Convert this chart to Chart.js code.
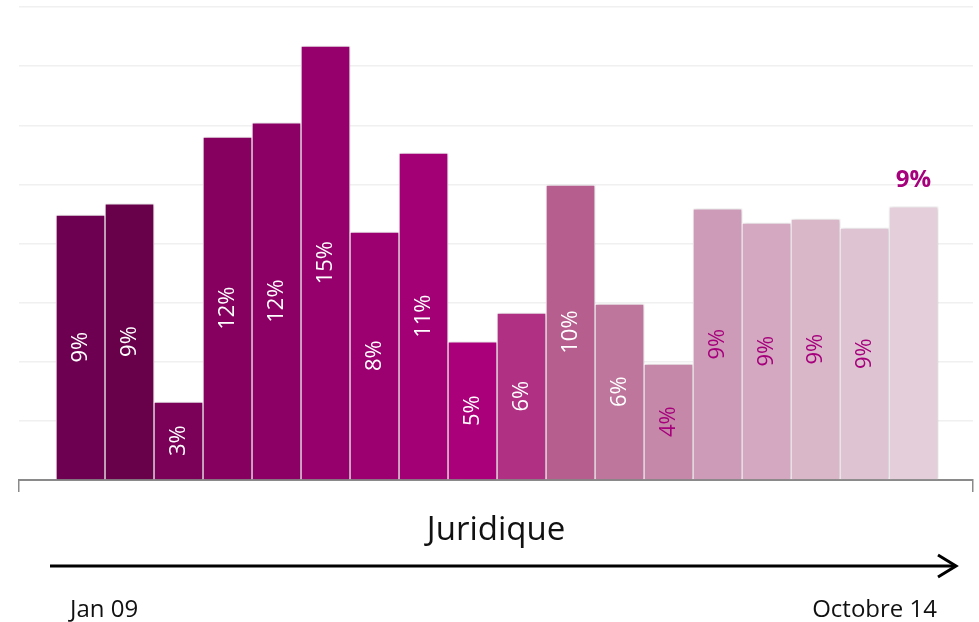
<!DOCTYPE html>
<html lang="fr">
<head>
<meta charset="UTF-8">
<title>Juridique</title>
<script src="https://cdn.jsdelivr.net/npm/chart.js"></script>
<style>
  body { margin: 0; background: #fff; }
  #page { position: relative; width: 979px; height: 622px; font-family: "Open Sans", sans-serif; }
  #zone { position: absolute; left: 0; top: 0; width: 979px; height: 500px; }
  #bas { position: absolute; left: 0; top: 0; pointer-events: none; }
</style>
</head>
<body>
<div id="page">
  <div id="zone"><canvas id="graphique"></canvas></div>
  <svg id="bas" width="979" height="622">
    <text x="496" y="540" text-anchor="middle" font-family="Open Sans" font-size="33" fill="#111">Juridique</text>
    <line x1="50" y1="566" x2="955" y2="566" stroke="#000" stroke-width="3"/>
    <polyline points="938,555 956,566 938,577" fill="none" stroke="#000" stroke-width="3"/>
    <text x="70" y="617" font-family="Open Sans" font-size="24" fill="#111">Jan 09</text>
    <text x="937" y="617" text-anchor="end" font-family="Open Sans" font-size="24" fill="#111">Octobre 14</text>
  </svg>
</div>

<script>
// positions des 18 périodes (jan 09 -> octobre 14)
const positions = [0, 1, 2, 3, 4, 5, 6, 7, 8, 9, 10, 11, 12, 13, 14, 15, 16, 17];
// part en %
const valeurs = [8.96, 9.34, 2.64, 11.6, 12.08, 14.68, 8.39, 11.06, 4.67, 5.65, 9.98, 5.95, 3.92, 9.17, 8.69, 8.83, 8.52, 9.24];
const etiquettes = ['9%', '9%', '3%', '12%', '12%', '15%', '8%', '11%', '5%', '6%', '10%', '6%', '4%', '9%', '9%', '9%', '9%', '9%'];
const couleurs = ['#6e0052', '#69004a', '#7a0058', '#85005f', '#8c0066', '#96006c', '#9c0070', '#a20074', '#aa007a',
  '#b03084', '#b65e8e', '#be769c', '#c688a8', '#cd9bb7', '#d4a8c0', '#d9b6c8', '#dec4d2', '#e4ced9'];

const magenta = '#a6007c';

// ombre des barres + étiquettes
const etiquettesBarres = {
  id: 'etiquettesBarres',
  beforeDatasetsDraw(chart) {
    const c = chart.ctx;
    c.save();
    c.shadowColor = 'rgba(0,0,0,0.22)';
    c.shadowBlur = 4;
    c.shadowOffsetX = 1;
  },
  afterDatasetsDraw(chart) {
    const c = chart.ctx;
    c.restore();
    const meta = chart.getDatasetMeta(0);
    meta.data.forEach((barre, i) => {
      c.save();
      if (i === meta.data.length - 1) {
        c.font = 'bold 24px "Open Sans"';
        c.fillStyle = magenta;
        c.textAlign = 'center';
        c.textBaseline = 'alphabetic';
        c.fillText(etiquettes[i], barre.x, barre.y - 20);
      } else {
        c.translate(barre.x, (barre.y + barre.base) / 2);
        c.rotate(-Math.PI / 2);
        c.font = '22px "Open Sans"';
        c.fillStyle = i < 12 ? '#ffffff' : magenta;
        c.textAlign = 'center';
        c.textBaseline = 'middle';
        c.fillText(etiquettes[i], 0, 0);
      }
      c.restore();
    });
  }
};

new Chart(document.getElementById('graphique'), {
  type: 'bar',
  data: {
    datasets: [{
      data: positions.map((p, i) => ({ x: p, y: valeurs[i] })),
      backgroundColor: couleurs,
      borderColor: '#ffffff',
      borderWidth: 1,
      barPercentage: 1,
      categoryPercentage: 1
    }]
  },
  options: {
    responsive: true,
    maintainAspectRatio: false,
    animation: false,
    layout: { padding: { left: 19, right: 6, top: 7, bottom: 8 } },
    plugins: { legend: { display: false }, tooltip: { enabled: false } },
    scales: {
      x: {
        type: 'linear',
        min: -1.255,
        max: 18.214,
        offset: false,
        afterBuildTicks: scale => { scale.ticks = [{ value: scale.min }, { value: scale.max }]; },
        ticks: { display: false },
        grid: { offset: false, drawOnChartArea: false, drawTicks: true, tickLength: 12, color: '#8a8a8a', lineWidth: 1.5 },
        border: { color: '#8a8a8a', width: 2 }
      },
      y: {
        min: 0,
        max: 16,
        ticks: { display: false, stepSize: 2 },
        grid: { color: '#f0f0f0', lineWidth: 1.5, drawTicks: false },
        border: { display: false }
      }
    }
  },
  plugins: [etiquettesBarres]
});
</script>
</body>
</html>
